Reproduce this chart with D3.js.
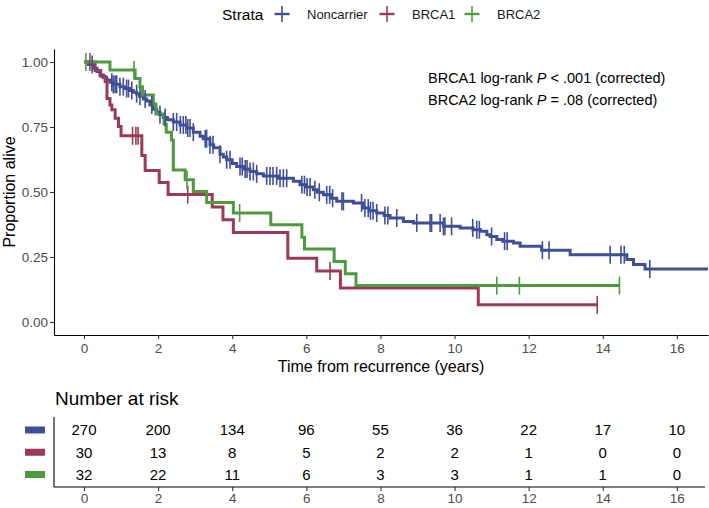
<!DOCTYPE html>
<html>
<head>
<meta charset="utf-8">
<script src="https://cdn.jsdelivr.net/npm/d3@7"></script>
<style>
  html, body { margin: 0; padding: 0; background: #fff; }
  svg { display: block; font-family: "Liberation Sans", Arial, Helvetica, sans-serif; }
</style>
</head>
<body>
<svg id="chart" width="709" height="508"></svg>
<script>
// ---------------- data ----------------
const strata = ["Noncarrier", "BRCA1", "BRCA2"];
const colors = ["#3F4F97", "#9A3A55", "#4E9A3F"];

// Kaplan-Meier step (event) times and survival after each step
const noncarrierTimes = [0.12,0.25,0.35,0.43,0.52,0.61,0.70,0.79,0.97,1.10,1.24,1.33,1.42,1.50,1.60,1.69,1.78,1.87,1.96,2.05,2.14,2.25,2.41,2.59,2.77,2.95,3.13,3.22,3.40,3.50,3.67,3.76,3.85,4.00,4.12,4.30,4.48,4.66,4.84,5.25,5.65,5.83,6.00,6.19,6.30,6.46,6.65,6.82,7.27,7.54,7.70,7.90,8.10,8.26,8.62,8.89,9.70,10.15,10.50,10.70,10.87,10.96,11.14,11.30,11.59,11.77,12.35,13.12,14.65,14.83,15.14];
const noncarrierSurv  = [0.990,0.976,0.963,0.950,0.940,0.931,0.922,0.914,0.905,0.898,0.890,0.884,0.878,0.868,0.858,0.850,0.835,0.818,0.808,0.797,0.787,0.778,0.769,0.758,0.746,0.730,0.714,0.705,0.682,0.670,0.645,0.635,0.624,0.610,0.598,0.588,0.579,0.570,0.562,0.553,0.541,0.528,0.519,0.509,0.499,0.489,0.476,0.464,0.458,0.438,0.428,0.419,0.410,0.400,0.387,0.381,0.368,0.362,0.355,0.349,0.336,0.329,0.317,0.311,0.304,0.291,0.276,0.259,0.240,0.221,0.204];
const noncarrierCensor = [0.22,0.75,0.79,0.84,0.88,0.97,1.06,1.15,1.20,1.29,1.42,1.51,1.65,1.83,2.05,2.19,2.41,2.50,2.60,2.68,2.75,2.80,2.86,2.95,3.27,3.31,3.40,3.48,3.67,3.85,3.94,4.21,4.27,4.35,4.40,4.48,4.57,4.66,4.93,5.02,5.10,5.20,5.29,5.38,5.47,5.88,5.95,6.02,6.10,6.23,6.35,6.55,6.63,6.71,6.96,7.00,7.49,7.58,7.67,7.73,7.80,7.90,8.12,8.20,8.44,8.98,9.34,9.38,9.61,9.70,9.74,9.92,10.49,10.60,10.67,11.00,11.35,11.42,12.37,12.55,14.20,14.49,14.58,15.27];
const noncarrierEnd = 17.0;

const brca1Times = [0.30,0.45,0.57,0.62,0.70,0.75,0.84,0.93,1.00,1.56,1.65,2.03,2.27,3.46,3.75,4.03,5.50,6.28,6.92,10.64];
const brca1Surv  = [0.967,0.945,0.925,0.860,0.835,0.816,0.784,0.752,0.716,0.640,0.583,0.537,0.490,0.442,0.393,0.344,0.245,0.196,0.131,0.066];
const brca1Censor = [0.16,1.31,1.40,1.46,2.80,6.64,13.85];
const brca1End = 13.85;

const brca2Times = [0.70,1.38,1.51,1.58,1.87,1.94,2.16,2.22,2.36,2.41,2.73,2.95,3.31,4.03,5.04,5.88,5.95,6.75,7.05,7.34];
const brca2Surv  = [0.969,0.937,0.905,0.873,0.838,0.800,0.762,0.730,0.700,0.585,0.547,0.502,0.460,0.419,0.374,0.326,0.281,0.233,0.186,0.140];
const brca2Censor = [0.05,1.35,2.78,4.20,11.14,11.75,14.45];
const brca2End = 14.45;

// number at risk table
const riskTimes = [0,2,4,6,8,10,12,14,16];
const riskNoncarrier = [270,200,134,96,55,36,22,17,10];
const riskBRCA1 = [30,13,8,5,2,2,1,0,0];
const riskBRCA2 = [32,22,11,6,3,3,1,1,0];

const xTicks = [0,2,4,6,8,10,12,14,16];
const yTicks = [0,0.25,0.5,0.75,1];
const annotLines = [["BRCA1 log-rank ", "P", " < .001 (corrected)"],
                    ["BRCA2 log-rank ", "P", " = .08 (corrected)"]];

// ---------------- build ----------------
const series = [
  {name: strata[0], color: colors[0], times: noncarrierTimes, surv: noncarrierSurv, censor: noncarrierCensor, end: noncarrierEnd, risk: riskNoncarrier},
  {name: strata[1], color: colors[1], times: brca1Times, surv: brca1Surv, censor: brca1Censor, end: brca1End, risk: riskBRCA1},
  {name: strata[2], color: colors[2], times: brca2Times, surv: brca2Surv, censor: brca2Censor, end: brca2End, risk: riskBRCA2}
];

const svg = d3.select("#chart");
const L = 54, R = 708, T = 49, B = 335;
const x = d3.scaleLinear().domain([-0.81, 16.84]).range([L, R]);
const y = d3.scaleLinear().domain([-0.05, 1.05]).range([B, T]);

svg.append("defs").append("clipPath").attr("id", "clip")
  .append("rect").attr("x", L).attr("y", 0).attr("width", R - L).attr("height", B);

// legend
const legY = 14;
svg.append("text").attr("x", 222).attr("y", legY + 5.5).attr("font-size", 15.5).attr("fill", "#000").text("Strata");
const legX = [282, 387, 472];
series.forEach((s, i) => {
  const g = svg.append("g");
  g.append("line").attr("x1", legX[i] - 7.5).attr("x2", legX[i] + 7.5).attr("y1", legY).attr("y2", legY)
    .attr("stroke", s.color).attr("stroke-width", 2.4);
  g.append("line").attr("x1", legX[i]).attr("x2", legX[i]).attr("y1", legY - 8).attr("y2", legY + 8)
    .attr("stroke", s.color).attr("stroke-width", 1.6);
  g.append("text").attr("x", legX[i] + 25).attr("y", legY + 4.5).attr("font-size", 13).attr("fill", "#1a1a1a").text(s.name);
});

// step function helper
function survAt(s, t) {
  let v = 1;
  for (let k = 0; k < s.times.length; k++) { if (s.times[k] <= t) v = s.surv[k]; }
  return v;
}

const plot = svg.append("g").attr("clip-path", "url(#clip)");
const line = d3.line().x(d => x(d[0])).y(d => y(d[1])).curve(d3.curveStepAfter);
series.forEach(s => {
  const pts = [[0, 1]].concat(s.times.map((t, k) => [t, s.surv[k]]));
  pts.push([s.end, s.surv[s.surv.length - 1]]);
  plot.append("path").datum(pts).attr("d", line)
    .attr("fill", "none").attr("stroke", s.color).attr("stroke-width", 3).attr("stroke-linejoin", "miter");
});
series.forEach(s => {
  plot.selectAll(null).data(s.censor).enter().append("line")
    .attr("x1", d => x(d)).attr("x2", d => x(d))
    .attr("y1", d => y(survAt(s, d)) - 9).attr("y2", d => y(survAt(s, d)) + 9)
    .attr("stroke", s.color).attr("stroke-width", 1.6);
});

// axes
function styleAxis(g) {
  g.select(".domain").attr("stroke", "#000").attr("stroke-width", 1.1);
  g.selectAll(".tick line").attr("stroke", "#333").attr("stroke-width", 1.1);
  g.selectAll(".tick text").attr("fill", "#4d4d4d").attr("font-size", 13.5)
    .attr("font-family", "'Liberation Sans', Arial, sans-serif");
}
const xAxis = svg.append("g").attr("transform", `translate(0,${B})`)
  .call(d3.axisBottom(x).tickValues(xTicks).tickSize(4).tickSizeOuter(0).tickPadding(4).tickFormat(d3.format("d")));
styleAxis(xAxis);
const yAxis = svg.append("g").attr("transform", `translate(${L},0)`)
  .call(d3.axisLeft(y).tickValues(yTicks).tickSize(4).tickSizeOuter(0).tickPadding(2).tickFormat(d3.format(".2f")));
styleAxis(yAxis);

svg.append("text").attr("x", (L + R) / 2).attr("y", 372).attr("text-anchor", "middle")
  .attr("font-size", 16).attr("fill", "#000").text("Time from recurrence (years)");
svg.append("text").attr("transform", `translate(15,${(T + B) / 2}) rotate(-90)`).attr("text-anchor", "middle")
  .attr("font-size", 16).attr("fill", "#000").text("Proportion alive");

// annotation
annotLines.forEach((parts, i) => {
  const t = svg.append("text").attr("x", 428).attr("y", 83 + i * 22).attr("font-size", 14.5).attr("fill", "#000");
  t.append("tspan").text(parts[0]);
  t.append("tspan").attr("font-style", "italic").text(parts[1]);
  t.append("tspan").text(parts[2]);
});

// risk table
svg.append("text").attr("x", 55).attr("y", 405).attr("font-size", 19).attr("fill", "#000").text("Number at risk");
const TB = 487, TT = 417;
const rowY = d3.scalePoint().domain(strata).range([430, 474.5]);
svg.append("line").attr("x1", L).attr("x2", L).attr("y1", TT).attr("y2", TB).attr("stroke", "#000").attr("stroke-width", 1.1);
const tAxis = svg.append("g").attr("transform", `translate(0,${TB})`)
  .call(d3.axisBottom(x).tickValues(riskTimes).tickSize(4).tickSizeOuter(0).tickPadding(2).tickFormat(d3.format("d")));
styleAxis(tAxis);
tAxis.select(".domain").attr("d", `M${L},0H${705}`);
series.forEach(s => {
  svg.append("rect").attr("x", 25).attr("y", rowY(s.name) - 3.5).attr("width", 20).attr("height", 7).attr("fill", s.color);
  svg.selectAll(null).data(riskTimes).enter().append("text")
    .attr("x", d => x(d)).attr("y", rowY(s.name) + 5.3).attr("text-anchor", "middle")
    .attr("font-size", 15).attr("fill", "#000").text((d, k) => s.risk[k]);
});
</script>
</body>
</html>
